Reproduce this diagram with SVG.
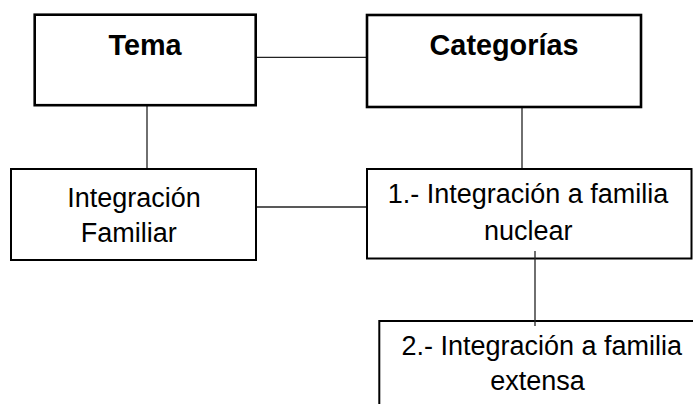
<svg xmlns="http://www.w3.org/2000/svg" width="693" height="404" viewBox="0 0 693 404">
<style>
.box{fill:#fff;stroke:#000;}
.thick{stroke-width:2.6;}
.thin{stroke-width:2;}
.t{font-family:"Liberation Sans",Arial,sans-serif;fill:#000;text-anchor:middle;}
.b{font-weight:bold;font-size:28.8px;}
.r{font-size:27px;}
.c{stroke:#222;stroke-width:1.3;fill:none;}
</style>
<rect width="693" height="404" fill="#fff"/>
<g id="connectors">
<line class="c" x1="256" y1="57.3" x2="367" y2="57.3"/>
<line class="c" x1="147" y1="105" x2="147" y2="169"/>
<line class="c" x1="522" y1="107" x2="522" y2="169"/>
<line class="c" x1="256" y1="207" x2="367" y2="207"/>
</g>
<g id="tema">
<rect class="box thick" x="34.7" y="14.7" width="221" height="90.5"/>
<text class="t b" x="145" y="55">Tema</text>
</g>
<g id="categorias">
<rect class="box thick" x="367" y="15" width="274" height="92"/>
<text class="t b" x="504" y="55">Categorías</text>
</g>
<g id="integracion-familiar">
<rect class="box thin" x="11" y="169" width="245" height="91"/>
<text class="t r" x="134" y="206.7">Integración</text>
<text class="t r" x="128.7" y="241.7">Familiar</text>
</g>
<g id="nuclear">
<rect class="box thin" x="367" y="169" width="324.5" height="89.5"/>
<text class="t r" x="528" y="203">1.- Integración a familia</text>
<text class="t r" x="528.3" y="240">nuclear</text>
</g>
<g id="extensa">
<rect class="box thin" x="379.3" y="321" width="330" height="100"/>
<text class="t r" x="541.7" y="355">2.- Integración a familia</text>
<text class="t r" x="537.5" y="390">extensa</text>
</g>
<g id="connectors-over">
<line class="c" x1="535" y1="251" x2="535" y2="326"/>
</g>
</svg>
